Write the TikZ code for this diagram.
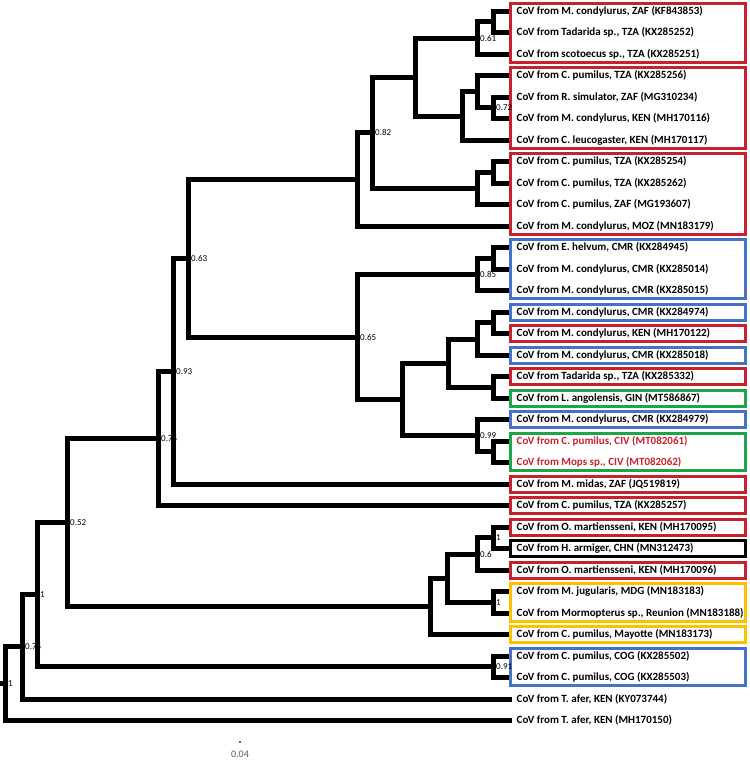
\documentclass[tikz,border=0pt]{standalone}
\usepackage{fontspec}
\setmainfont{Carlito}
\definecolor{cred}{RGB}{200,32,45}
\definecolor{cblue}{RGB}{68,114,196}
\definecolor{cgreen}{RGB}{30,165,75}
\definecolor{cyellow}{RGB}{255,192,0}
\definecolor{cgray}{RGB}{90,90,90}
\begin{document}
\begin{tikzpicture}[x=1pt,y=-1pt,
  branch/.style={line width=5pt,line join=miter,line cap=rect},
  leaflabel/.style={anchor=west,inner sep=0pt,font=\fontsize{11}{12}\selectfont\bfseries},
  support/.style={anchor=west,inner sep=0pt,font=\fontsize{9}{10}\selectfont},
  cladebox/.style={line width=3pt}]
\useasboundingbox (0,0) rectangle (750,764);
% leaves
\foreach \i/\c/\t in {
 1/black/{CoV from M. condylurus, ZAF (KF843853)},
 2/black/{CoV from Tadarida sp., TZA (KX285252)},
 3/black/{CoV from scotoecus sp., TZA (KX285251)},
 4/black/{CoV from C. pumilus, TZA (KX285256)},
 5/black/{CoV from R. simulator, ZAF (MG310234)},
 6/black/{CoV from M. condylurus, KEN (MH170116)},
 7/black/{CoV from C. leucogaster, KEN (MH170117)},
 8/black/{CoV from C. pumilus, TZA (KX285254)},
 9/black/{CoV from C. pumilus, TZA (KX285262)},
 10/black/{CoV from C. pumilus, ZAF (MG193607)},
 11/black/{CoV from M. condylurus, MOZ (MN183179)},
 12/black/{CoV from E. helvum, CMR (KX284945)},
 13/black/{CoV from M. condylurus, CMR (KX285014)},
 14/black/{CoV from M. condylurus, CMR (KX285015)},
 15/black/{CoV from M. condylurus, CMR (KX284974)},
 16/black/{CoV from M. condylurus, KEN (MH170122)},
 17/black/{CoV from M. condylurus, CMR (KX285018)},
 18/black/{CoV from Tadarida sp., TZA (KX285332)},
 19/black/{CoV from L. angolensis, GIN (MT586867)},
 20/black/{CoV from M. condylurus, CMR (KX284979)},
 21/cred/{CoV from C. pumilus, CIV (MT082061)},
 22/cred/{CoV from Mops sp., CIV (MT082062)},
 23/black/{CoV from M. midas, ZAF (JQ519819)},
 24/black/{CoV from C. pumilus, TZA (KX285257)},
 25/black/{CoV from O. martiensseni, KEN (MH170095)},
 26/black/{CoV from H. armiger, CHN (MN312473)},
 27/black/{CoV from O. martiensseni, KEN (MH170096)},
 28/black/{CoV from M. jugularis, MDG (MN183183)},
 29/black/{CoV from Mormopterus sp., Reunion (MN183188)},
 30/black/{CoV from C. pumilus, Mayotte (MN183173)},
 31/black/{CoV from C. pumilus, COG (KX285502)},
 32/black/{CoV from C. pumilus, COG (KX285503)},
 33/black/{CoV from T. afer, KEN (KY073744)},
 34/black/{CoV from T. afer, KEN (MH170150)}}{
  \pgfmathsetmacro\yy{11.2+(\i-1)*21.5}
  \coordinate (l\i) at (509,\yy);
  \coordinate (bt\i) at (510,\yy-8);
  \coordinate (bb\i) at (745.5,\yy+8);
  \node[leaflabel,text=\c] (t\i) at (516.5,\yy) {\t};
}
% internal nodes
\coordinate (n12) at (493,21.95);
\coordinate (n61) at (477,38.1);
\coordinate (n56) at (493,107.95);
\coordinate (n456) at (477,91.8);
\coordinate (n4567) at (462,116);
\coordinate (nA) at (415,77.05);
\coordinate (n89) at (493,172.45);
\coordinate (n8910) at (477,188.6);
\coordinate (n82) at (372,132.8);
\coordinate (nB) at (357,179.5);
\coordinate (n1213) at (493,258.45);
\coordinate (n85) at (477,274.6);
\coordinate (n1516) at (493,322.95);
\coordinate (n151617) at (477,339.1);
\coordinate (n1819) at (493,387.45);
\coordinate (nC) at (448,363.3);
\coordinate (n2122) at (493,451.95);
\coordinate (n99) at (477,435.8);
\coordinate (nD) at (402,399.55);
\coordinate (n65) at (357,337.1);
\coordinate (n63) at (188,258.3);
\coordinate (n93) at (173,371.25);
\coordinate (n75a) at (158,438.5);
\coordinate (n2526) at (493,537.95);
\coordinate (n60) at (477,554.1);
\coordinate (n2829) at (493,602.45);
\coordinate (nE) at (447,578.3);
\coordinate (nF) at (430,606.5);
\coordinate (n52) at (67,522.5);
\coordinate (n91) at (493,666.95);
\coordinate (n1) at (37,594.7);
\coordinate (n75b) at (22,646.95);
\coordinate (root) at (5,683.8);
\coordinate (rootstub) at (0,683.8);
% branches
\foreach \p/\q in {n12/l1,n12/l2,n61/n12,n61/l3,n56/l5,n56/l6,n456/l4,n456/n56,
  n4567/n456,n4567/l7,nA/n61,nA/n4567,n89/l8,n89/l9,n8910/n89,n8910/l10,
  n82/nA,n82/n8910,nB/n82,nB/l11,n1213/l12,n1213/l13,n85/n1213,n85/l14,
  n1516/l15,n1516/l16,n151617/n1516,n151617/l17,n1819/l18,n1819/l19,
  nC/n151617,nC/n1819,n2122/l21,n2122/l22,n99/l20,n99/n2122,nD/nC,nD/n99,
  n65/n85,n65/nD,n63/nB,n63/n65,n93/n63,n93/l23,n75a/n93,n75a/l24,
  n2526/l25,n2526/l26,n60/n2526,n60/l27,n2829/l28,n2829/l29,nE/n60,nE/n2829,
  nF/nE,nF/l30,n52/n75a,n52/nF,n91/l31,n91/l32,n1/n52,n1/n91,n75b/n1,n75b/l33,
  root/n75b,root/l34}{
  \draw[branch] (\p) |- (\q);
}
\draw[branch] (rootstub) -- (root);
% clade boxes
\foreach \a/\b/\c in {1/3/cred,4/7/cred,8/11/cred,12/14/cblue,15/15/cblue,16/16/cred,
  17/17/cblue,18/18/cred,19/19/cgreen,20/20/cblue,21/22/cgreen,23/23/cred,24/24/cred,
  25/25/cred,26/26/black,27/27/cred,28/29/cyellow,30/30/cyellow,31/32/cblue}{
  \draw[cladebox,draw=\c] (bt\a) rectangle (bb\b);
}
% support values
\foreach \n/\v in {n61/0.61,n56/0.72,n82/0.82,n85/0.85,n99/0.99,n65/0.65,n63/0.63,
  n93/0.93,n75a/0.75,n2526/1,n60/0.6,n2829/1,n52/0.52,n91/0.91,n1/1,n75b/0.75,root/1}{
  \node[support] (s\n) at ([xshift=3pt]\n) {\v};
}
% scale bar
\coordinate (sbA) at (239.4,742);
\coordinate (sbB) at (240.6,742);
\draw[line width=1.2pt,cgray] (sbA) -- (sbB);
\node[font=\fontsize{10}{11}\selectfont,text=cgray,inner sep=0pt] (sblabel) at (240,754) {0.04};
\end{tikzpicture}
\end{document}
